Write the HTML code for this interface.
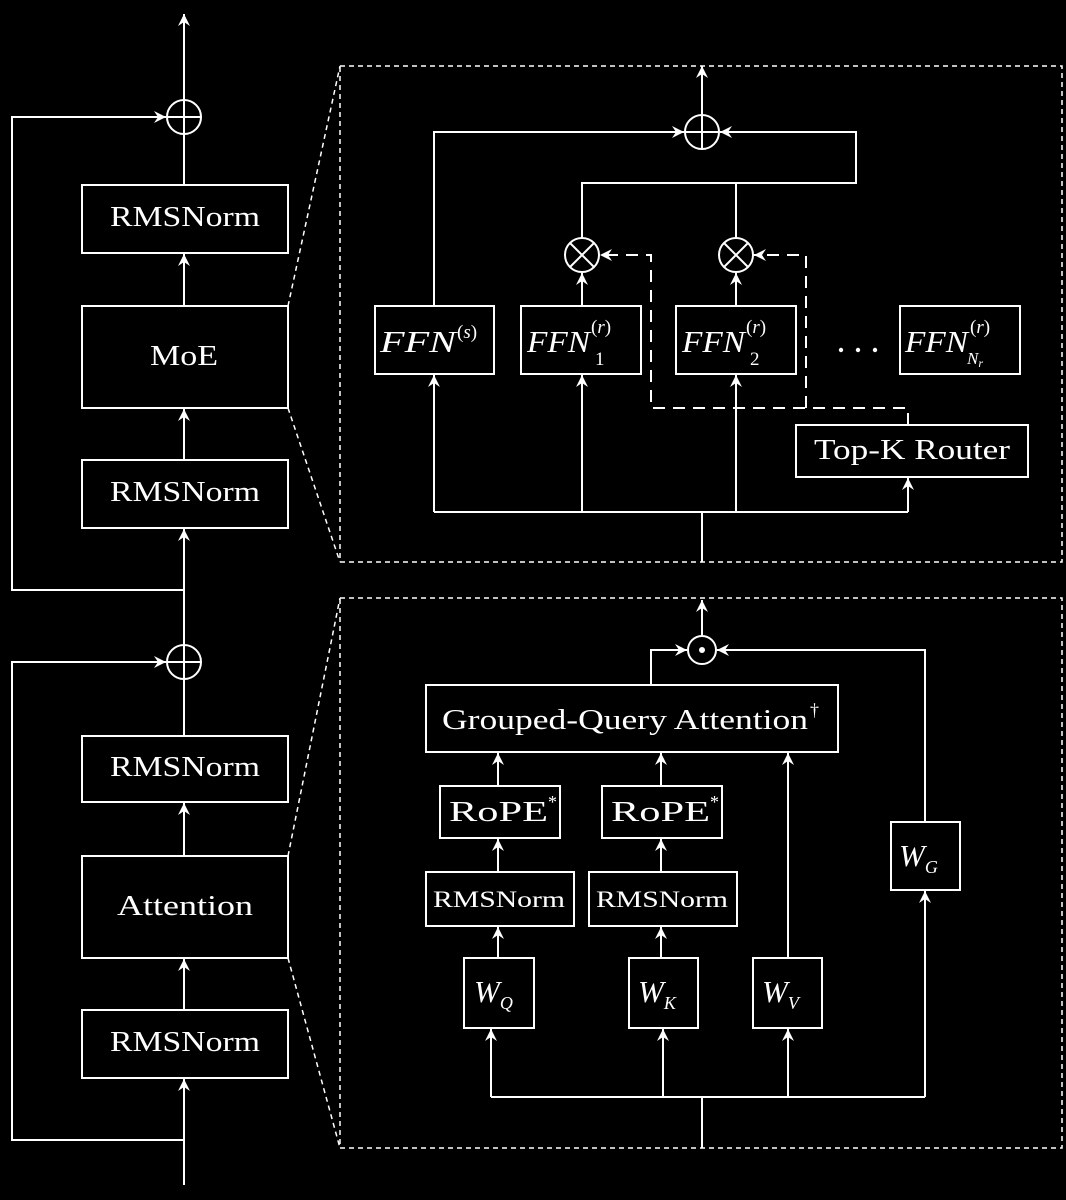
<!DOCTYPE html>
<html><head><meta charset="utf-8"><style>
html,body{margin:0;padding:0;background:#000}
svg{display:block}
text{font-family:"Liberation Serif",serif;fill:#fff}
</style></head><body>
<svg width="1066" height="1200" viewBox="0 0 1066 1200" xmlns="http://www.w3.org/2000/svg">
<defs>
<marker id="a" markerWidth="14" markerHeight="14" refX="12" refY="7" orient="auto" markerUnits="userSpaceOnUse">
<path d="M0,1 L12,7 L0,13 L4,7 Z" fill="#fff"/>
</marker>
</defs>
<g stroke="#fff" stroke-width="2" fill="none">
<line x1="184" y1="100" x2="184" y2="14" marker-end="url(#a)"/>
<circle cx="184" cy="117" r="17"/>
<line x1="167" y1="117" x2="201" y2="117"/><line x1="184" y1="100" x2="184" y2="134"/>
<polyline points="184,590 12,590 12,117 166,117" marker-end="url(#a)"/>
<line x1="184" y1="134" x2="184" y2="185"/>
<rect x="82" y="185" width="206" height="68"/>
<line x1="184" y1="306" x2="184" y2="254" marker-end="url(#a)"/>
<rect x="82" y="306" width="206" height="102"/>
<line x1="184" y1="460" x2="184" y2="409" marker-end="url(#a)"/>
<rect x="82" y="460" width="206" height="68"/>
<line x1="184" y1="645" x2="184" y2="529" marker-end="url(#a)"/>
<circle cx="184" cy="662" r="17"/>
<line x1="167" y1="662" x2="201" y2="662"/><line x1="184" y1="645" x2="184" y2="679"/>
<polyline points="184,1140 12,1140 12,662 166,662" marker-end="url(#a)"/>
<line x1="184" y1="679" x2="184" y2="736"/>
<rect x="82" y="736" width="206" height="66"/>
<line x1="184" y1="856" x2="184" y2="803" marker-end="url(#a)"/>
<rect x="82" y="856" width="206" height="102"/>
<line x1="184" y1="1010" x2="184" y2="959" marker-end="url(#a)"/>
<rect x="82" y="1010" width="206" height="68"/>
<line x1="184" y1="1185" x2="184" y2="1079" marker-end="url(#a)"/>
</g>
<g stroke="#fff" stroke-width="1.5" fill="none" stroke-dasharray="5,4">
<line x1="288" y1="306" x2="340" y2="66"/>
<line x1="288" y1="408" x2="340" y2="562"/>
<rect x="340" y="66" width="722" height="496"/>
<line x1="288" y1="856" x2="340" y2="598"/>
<line x1="288" y1="958" x2="340" y2="1148"/>
<rect x="340" y="598" width="722" height="550"/>
</g>
<g stroke="#fff" stroke-width="2" fill="none">
<line x1="702" y1="115" x2="702" y2="66" marker-end="url(#a)"/>
<circle cx="702" cy="132" r="17"/>
<line x1="685" y1="132" x2="719" y2="132"/><line x1="702" y1="115" x2="702" y2="149"/>
<polyline points="434,306 434,132 684,132" marker-end="url(#a)"/>
<polyline points="582,238 582,183 856,183 856,132 720,132" marker-end="url(#a)"/>
<line x1="736" y1="183" x2="736" y2="238"/>
<circle cx="582" cy="255" r="17"/>
<line x1="570" y1="243" x2="594" y2="267"/><line x1="594" y1="243" x2="570" y2="267"/>
<circle cx="736" cy="255" r="17"/>
<line x1="724" y1="243" x2="748" y2="267"/><line x1="748" y1="243" x2="724" y2="267"/>
<line x1="582" y1="306" x2="582" y2="273" marker-end="url(#a)"/>
<line x1="736" y1="306" x2="736" y2="273" marker-end="url(#a)"/>
<rect x="375" y="306" width="119" height="68"/>
<rect x="521" y="306" width="120" height="68"/>
<rect x="676" y="306" width="120" height="68"/>
<rect x="900" y="306" width="120" height="68"/>
<rect x="796" y="425" width="232" height="52"/>
<line x1="702" y1="562" x2="702" y2="512"/>
<line x1="434" y1="512" x2="908" y2="512"/>
<line x1="434" y1="512" x2="434" y2="375" marker-end="url(#a)"/>
<line x1="582" y1="512" x2="582" y2="375" marker-end="url(#a)"/>
<line x1="736" y1="512" x2="736" y2="375" marker-end="url(#a)"/>
<line x1="908" y1="512" x2="908" y2="478" marker-end="url(#a)"/>
</g>
<g stroke="#fff" stroke-width="2" fill="none" stroke-dasharray="12,8">
<polyline points="908,425 908,408 651,408 651,255 600,255" marker-end="url(#a)"/>
<polyline points="806,408 806,255 754,255" marker-end="url(#a)"/>
</g>
<g stroke="#fff" stroke-width="2" fill="none">
<line x1="702" y1="636" x2="702" y2="600" marker-end="url(#a)"/>
<circle cx="702" cy="650" r="14"/>
<polyline points="651,685 651,650 687,650" marker-end="url(#a)"/>
<polyline points="925,822 925,650 717,650" marker-end="url(#a)"/>
<rect x="426" y="685" width="412" height="67"/>
<rect x="440" y="786" width="120" height="52"/>
<rect x="602" y="786" width="120" height="52"/>
<rect x="426" y="872" width="148" height="54"/>
<rect x="589" y="872" width="148" height="54"/>
<rect x="464" y="958" width="70" height="70"/>
<rect x="629" y="958" width="69" height="70"/>
<rect x="753" y="958" width="69" height="70"/>
<rect x="891" y="822" width="69" height="68"/>
<line x1="498" y1="786" x2="498" y2="753" marker-end="url(#a)"/>
<line x1="661" y1="786" x2="661" y2="753" marker-end="url(#a)"/>
<line x1="788" y1="958" x2="788" y2="753" marker-end="url(#a)"/>
<line x1="498" y1="872" x2="498" y2="839" marker-end="url(#a)"/>
<line x1="661" y1="872" x2="661" y2="839" marker-end="url(#a)"/>
<line x1="498" y1="958" x2="498" y2="927" marker-end="url(#a)"/>
<line x1="661" y1="958" x2="661" y2="927" marker-end="url(#a)"/>
<line x1="702" y1="1148" x2="702" y2="1097"/>
<line x1="491" y1="1097" x2="925" y2="1097"/>
<line x1="491" y1="1097" x2="491" y2="1029" marker-end="url(#a)"/>
<line x1="663" y1="1097" x2="663" y2="1029" marker-end="url(#a)"/>
<line x1="788" y1="1097" x2="788" y2="1029" marker-end="url(#a)"/>
<line x1="925" y1="1097" x2="925" y2="891" marker-end="url(#a)"/>
</g>
<circle cx="702" cy="650" r="3" fill="#fff"/>
<g font-size="28" lengthAdjust="spacingAndGlyphs">
<text x="110" y="226" textLength="150" lengthAdjust="spacingAndGlyphs">RMSNorm</text>
<text x="150" y="365" textLength="68" lengthAdjust="spacingAndGlyphs">MoE</text>
<text x="110" y="501" textLength="150" lengthAdjust="spacingAndGlyphs">RMSNorm</text>
<text x="110" y="776" textLength="150" lengthAdjust="spacingAndGlyphs">RMSNorm</text>
<text x="117" y="915" textLength="136" lengthAdjust="spacingAndGlyphs">Attention</text>
<text x="110" y="1051" textLength="150" lengthAdjust="spacingAndGlyphs">RMSNorm</text>
<text x="814" y="459" textLength="196" lengthAdjust="spacingAndGlyphs">Top-K Router</text>
<text x="442" y="729" textLength="366" lengthAdjust="spacingAndGlyphs">Grouped-Query Attention</text>
<text x="810" y="716" font-size="18">†</text>
<text x="449" y="821" textLength="99" lengthAdjust="spacingAndGlyphs">RoPE</text>
<text x="548" y="808" font-size="18">*</text>
<text x="611" y="821" textLength="99" lengthAdjust="spacingAndGlyphs">RoPE</text>
<text x="710" y="808" font-size="18">*</text>
<text x="433" y="907" font-size="23" textLength="132" lengthAdjust="spacingAndGlyphs">RMSNorm</text>
<text x="596" y="907" font-size="23" textLength="132" lengthAdjust="spacingAndGlyphs">RMSNorm</text>
</g>
<g font-size="31" font-style="italic">
<text x="380" y="352" textLength="76" lengthAdjust="spacingAndGlyphs">FFN</text>
<text x="457" y="338" font-size="19" font-style="normal">(<tspan font-style="italic">s</tspan>)</text>
<text x="527" y="352" textLength="63" lengthAdjust="spacingAndGlyphs">FFN</text>
<text x="591" y="333" font-size="19" font-style="normal">(<tspan font-style="italic">r</tspan>)</text>
<text x="595" y="365" font-size="19" font-style="normal">1</text>
<text x="682" y="352" textLength="63" lengthAdjust="spacingAndGlyphs">FFN</text>
<text x="746" y="333" font-size="19" font-style="normal">(<tspan font-style="italic">r</tspan>)</text>
<text x="750" y="365" font-size="19" font-style="normal">2</text>
<text x="905" y="352" textLength="63" lengthAdjust="spacingAndGlyphs">FFN</text>
<text x="970" y="333" font-size="19" font-style="normal">(<tspan font-style="italic">r</tspan>)</text>
<text x="967" y="364" font-size="17">N<tspan font-size="12" dy="3">r</tspan></text>
<text x="474" y="1002">W<tspan font-size="18" dy="7">Q</tspan></text>
<text x="638" y="1002">W<tspan font-size="18" dy="7">K</tspan></text>
<text x="762" y="1002">W<tspan font-size="18" dy="7">V</tspan></text>
<text x="899" y="866">W<tspan font-size="18" dy="7">G</tspan></text>
</g>
<g fill="#fff"><circle cx="841" cy="350" r="2.2"/><circle cx="858" cy="350" r="2.2"/><circle cx="875" cy="350" r="2.2"/></g>
</svg>
</body></html>
